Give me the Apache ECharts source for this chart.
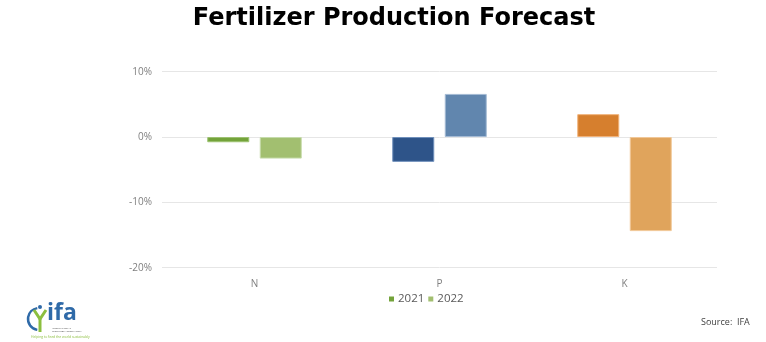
<!DOCTYPE html>
<html>
<head>
<meta charset="utf-8">
<script src="https://cdn.jsdelivr.net/npm/echarts@6/dist/echarts.min.js"></script>
<style>
  html, body { margin: 0; padding: 0; background: #ffffff; }
  #chart { width: 766px; height: 342px; }
</style>
</head>
<body>
<div id="chart"></div>
<script>
// Nutrient categories and yearly production change (%)
const categories = ['N', 'P', 'K'];
const years = ['2021', '2022'];
const values2021 = [-0.8, -3.8, 3.5];
const values2022 = [-3.3, 6.6, -14.4];
const yTicks = [-20, -10, 0, 10];

// Each nutrient has its own hue: darker for 2021, lighter for 2022
const colors2021 = ['#73a33a', '#2e5489', '#d67f2e'];
const colors2022 = ['#a2bf70', '#6186ae', '#e0a45c'];
const borders2021 = ['#9cc271', '#6f8fbb', '#f0b27a'];
const borders2022 = ['#c6dbab', '#a4bad4', '#f1c898'];

function items(values, fills, borders) {
  return values.map((v, i) => ({
    value: v,
    itemStyle: { color: fills[i], borderColor: borders[i], borderWidth: 1 }
  }));
}

const chart = echarts.init(document.getElementById('chart'), null, { renderer: 'canvas' });

chart.setOption({
  animation: false,
  backgroundColor: '#ffffff',
  title: {
    text: 'Fertilizer Production Forecast',
    left: 389,
    textAlign: 'center',
    top: 2,
    textStyle: {
      fontFamily: '"DejaVu Sans", sans-serif',
      fontWeight: 'bold',
      fontSize: 24,
      color: '#000000'
    }
  },
  legend: {
    data: years.map((y, i) => ({ name: y, itemStyle: { color: i === 0 ? '#73a33a' : '#a2bf70' } })),
    left: 384,
    top: 288,
    itemWidth: 5,
    itemHeight: 5,
    itemGap: 4,
    icon: 'rect',
    textStyle: { fontFamily: '"Open Sans", sans-serif', fontSize: 11.5, color: '#595959', padding: [0, 0, 0, -1] }
  },
  grid: {
    left: 162,
    right: 49,
    top: 71.7,
    bottom: 74.3,
    containLabel: false
  },
  xAxis: {
    type: 'category',
    data: categories,
    axisLine: { show: false },
    axisTick: { show: false },
    axisLabel: {
      margin: 11,
      fontFamily: '"Open Sans", sans-serif',
      fontSize: 10,
      color: '#7f7f7f'
    }
  },
  yAxis: {
    type: 'value',
    min: yTicks[0],
    max: yTicks[yTicks.length - 1],
    interval: 10,
    axisLine: { show: false },
    axisTick: { show: false },
    splitLine: { lineStyle: { color: '#e6e6e6', width: 1 } },
    axisLabel: {
      margin: 10,
      fontFamily: '"Open Sans", sans-serif',
      fontSize: 10,
      color: '#7f7f7f',
      formatter: v => v + '%'
    }
  },
  series: [
    {
      name: years[0],
      type: 'bar',
      barWidth: 42,
      barGap: '25%',
      itemStyle: { color: '#73a33a' },
      data: items(values2021, colors2021, borders2021)
    },
    {
      name: years[1],
      type: 'bar',
      barWidth: 42,
      barGap: '25%',
      itemStyle: { color: '#a2bf70' },
      data: items(values2022, colors2022, borders2022)
    }
  ],
  graphic: [
    // IFA logo: arc, stylised figure, wordmark and tagline
    {
      type: 'arc',
      shape: { cx: 39, cy: 319, r: 11, startAngle: Math.PI * 0.55, endAngle: Math.PI * 1.45 },
      style: { stroke: '#2f6aa8', lineWidth: 2.5, fill: null }
    },
    {
      type: 'polyline',
      shape: { points: [[34, 310], [40, 319], [46, 310]] },
      style: { stroke: '#8cbf3f', lineWidth: 3, fill: null }
    },
    {
      type: 'line',
      shape: { x1: 40, y1: 319, x2: 40, y2: 332 },
      style: { stroke: '#8cbf3f', lineWidth: 3 }
    },
    {
      type: 'circle',
      shape: { cx: 40, cy: 307, r: 2 },
      style: { fill: '#2f6aa8' }
    },
    {
      type: 'text',
      left: 47,
      top: 302,
      style: {
        text: 'ifa',
        fontFamily: '"Open Sans", sans-serif',
        fontWeight: 'bold',
        fontSize: 23,
        fill: '#2f6aa8'
      }
    },
    {
      type: 'text',
      left: 52,
      top: 327,
      style: {
        text: 'INTERNATIONAL\nFERTILIZER ASSOCIATION',
        fontFamily: '"Open Sans", sans-serif',
        fontSize: 2.5,
        lineHeight: 3,
        fill: '#555555'
      }
    },
    {
      type: 'text',
      left: 31,
      top: 336,
      style: {
        text: 'Helping to feed the world sustainably',
        fontFamily: '"Open Sans", sans-serif',
        fontSize: 3.4,
        fill: '#8cbf3f'
      }
    },
    {
      type: 'text',
      left: 701,
      top: 318,
      style: {
        text: 'Source:  IFA',
        fontFamily: '"Open Sans", sans-serif',
        fontSize: 9,
        fill: '#404040'
      }
    }
  ]
});
</script>
</body>
</html>
